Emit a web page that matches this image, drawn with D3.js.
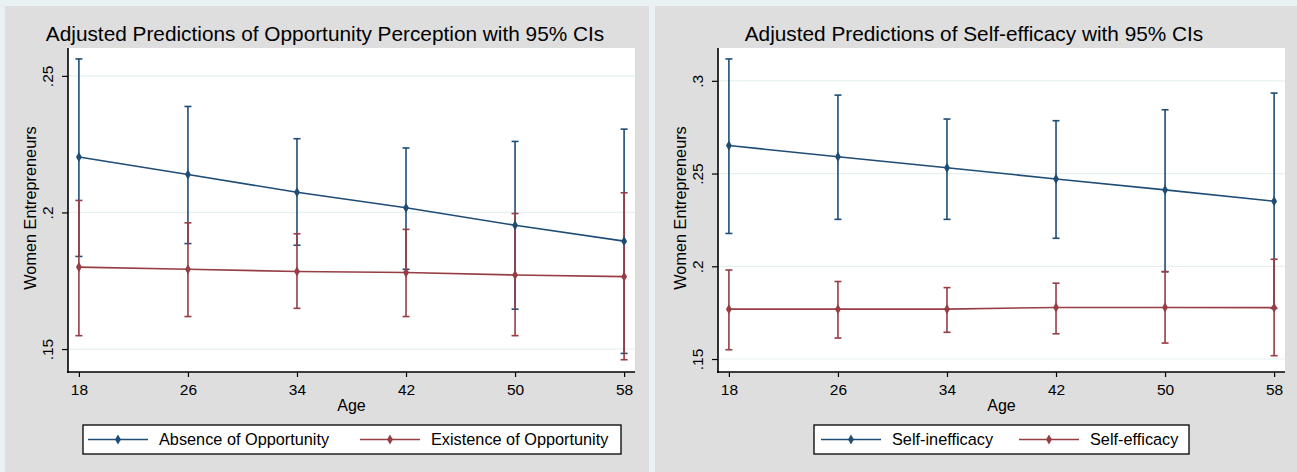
<!DOCTYPE html>
<html>
<head>
<meta charset="utf-8">
<script src="https://cdn.jsdelivr.net/npm/d3@7"></script>
<style>
  html, body { margin: 0; padding: 0; background: #e9f1f2; }
  svg { display: block; }
  text { font-family: "Liberation Sans", Arial, sans-serif; fill: #000; }
</style>
</head>
<body>
<svg id="chart" width="1297" height="472"></svg>
<script>
// ---------- data ----------
const ages = [18, 26, 34, 42, 50, 58];
const xTickLabels = ["18", "26", "34", "42", "50", "58"];

// Left chart: Opportunity Perception
const oppTitle = "Adjusted Predictions of Opportunity Perception with 95% CIs";
const oppSeriesNames = ["Absence of Opportunity", "Existence of Opportunity"];
const absenceFit = [0.2203, 0.2139, 0.2074, 0.2017, 0.1953, 0.1895];
const absenceLo  = [0.1839, 0.1886, 0.1880, 0.1792, 0.1646, 0.1484];
const absenceHi  = [0.2562, 0.2388, 0.2270, 0.2236, 0.2260, 0.2305];
const existenceFit = [0.1800, 0.1792, 0.1784, 0.1780, 0.1771, 0.1765];
const existenceLo  = [0.1549, 0.1619, 0.1649, 0.1619, 0.1549, 0.1461];
const existenceHi  = [0.2044, 0.1962, 0.1922, 0.1938, 0.1996, 0.2072];
const oppYTicks = [0.15, 0.2, 0.25];
const oppYTickLabels = [".15", ".2", ".25"];

// Right chart: Self-efficacy
const effTitle = "Adjusted Predictions of Self-efficacy with 95% CIs";
const effSeriesNames = ["Self-inefficacy", "Self-efficacy"];
const inefficacyFit = [0.2651, 0.2591, 0.2531, 0.2471, 0.2412, 0.2351];
const inefficacyLo  = [0.2177, 0.2253, 0.2253, 0.2151, 0.1971, 0.1773];
const inefficacyHi  = [0.3118, 0.2923, 0.2794, 0.2785, 0.2844, 0.2934];
const efficacyFit = [0.1769, 0.1769, 0.1769, 0.1778, 0.1778, 0.1777];
const efficacyLo  = [0.1550, 0.1613, 0.1644, 0.1636, 0.1586, 0.1518];
const efficacyHi  = [0.1980, 0.1918, 0.1885, 0.1909, 0.1971, 0.2038];
const effYTicks = [0.15, 0.2, 0.25, 0.3];
const effYTickLabels = [".15", ".2", ".25", ".3"];

const yTitle = "Women Entrepreneurs";
const xTitle = "Age";

// ---------- styles ----------
const NAVY = "#1f4d75";
const MAROON = "#973d44";
const PANEL = "#dedede";
const GRID = "#e6eff1";

const svg = d3.select("#chart");

function drawPanel(cfg) {
  const g = svg.append("g").attr("transform", `translate(${cfg.px},0)`);
  // panel background
  g.append("rect").attr("x", 0).attr("y", 6).attr("width", cfg.pw).attr("height", 472 - 6)
    .attr("fill", PANEL);

  const pl = 63, pr = pl + 567, pt = 48, pb = 372;
  g.append("rect").attr("x", pl).attr("y", pt).attr("width", pr - pl).attr("height", pb - pt)
    .attr("fill", "#fff");

  const x = d3.scaleLinear().domain([17.2, 58.8]).range([pl, pr]);
  const y = d3.scaleLinear().domain(cfg.yDomain).range([pb, pt]);

  // gridlines
  g.append("g").selectAll("line").data(cfg.yTicks).join("line")
    .attr("x1", pl).attr("x2", pr)
    .attr("y1", d => y(d)).attr("y2", d => y(d))
    .attr("stroke", GRID).attr("stroke-width", 1.2);

  // title
  g.append("text").attr("x", cfg.pw / 2 - 2).attr("y", 40.5).attr("text-anchor", "middle")
    .style("font-size", "20.8px").text(cfg.title);

  // y axis
  const yAxis = d3.axisLeft(y).tickValues(cfg.yTicks)
    .tickFormat((d, i) => cfg.yTickLabels[i]).tickSize(6).tickSizeOuter(0).tickPadding(0);
  const ya = g.append("g").attr("transform", `translate(${pl},0)`).call(yAxis);
  ya.select(".domain").attr("stroke", "#000").attr("stroke-width", 1.6)
    .attr("d", `M0,${pt}V${pb + 1}`);
  ya.selectAll(".tick line").attr("stroke", "#000").attr("stroke-width", 1.2);
  ya.selectAll(".tick text")
    .attr("x", 0).attr("dy", "0")
    .attr("transform", "translate(-15,0) rotate(-90)")
    .attr("text-anchor", "middle")
    .style("font-size", "15.5px").style("font-family", "'Liberation Sans', Arial, sans-serif");

  // y title
  g.append("text").attr("transform", `translate(${pl - 32},${(pt + pb) / 2 - 2}) rotate(-90)`)
    .attr("text-anchor", "middle").style("font-size", "16.3px").text(yTitle);

  // x axis
  const xAxis = d3.axisBottom(x).tickValues(ages)
    .tickFormat((d, i) => xTickLabels[i]).tickSize(5).tickSizeOuter(0).tickPadding(7);
  const xa = g.append("g").attr("transform", `translate(0,${pb})`).call(xAxis);
  xa.select(".domain").attr("stroke", "#000").attr("stroke-width", 1.6)
    .attr("d", `M${pl - 1},0H${pr}`);
  xa.selectAll(".tick line").attr("stroke", "#000").attr("stroke-width", 1.2);
  xa.selectAll(".tick text").style("font-size", "15.5px")
    .style("font-family", "'Liberation Sans', Arial, sans-serif");

  g.append("text").attr("x", (pl + pr) / 2).attr("y", 411).attr("text-anchor", "middle")
    .style("font-size", "16px").text(xTitle);

  // CIs
  const cap = 3.5;
  cfg.series.forEach(s => {
    const cg = g.append("g").attr("stroke", s.color).attr("stroke-width", 1.6).attr("fill", "none");
    ages.forEach((a, i) => {
      const xx = x(a);
      cg.append("line").attr("x1", xx).attr("x2", xx).attr("y1", y(s.lo[i])).attr("y2", y(s.hi[i]));
      cg.append("line").attr("x1", xx - cap).attr("x2", xx + cap).attr("y1", y(s.lo[i])).attr("y2", y(s.lo[i]));
      cg.append("line").attr("x1", xx - cap).attr("x2", xx + cap).attr("y1", y(s.hi[i])).attr("y2", y(s.hi[i]));
    });
  });
  // lines + markers
  const line = d3.line().x((d, i) => x(ages[i])).y(d => y(d));
  cfg.series.forEach(s => {
    g.append("path").datum(s.fit).attr("d", line).attr("fill", "none")
      .attr("stroke", s.color).attr("stroke-width", 1.6);
    g.append("g").selectAll("path").data(s.fit).join("path")
      .attr("d", d3.symbol(d3.symbolDiamond, 30))
      .attr("transform", (d, i) => `translate(${x(ages[i])},${y(d)})`)
      .attr("fill", s.color);
  });

  // legend
  const lg = g.append("g");
  lg.append("rect").attr("x", cfg.legend.x0).attr("y", 425).attr("width", cfg.legend.x1 - cfg.legend.x0)
    .attr("height", 29).attr("fill", "#fff").attr("stroke", "#000").attr("stroke-width", 1.3);
  cfg.series.forEach((s, k) => {
    const lx = cfg.legend.items[k];
    lg.append("line").attr("x1", lx).attr("x2", lx + 60).attr("y1", 439.5).attr("y2", 439.5)
      .attr("stroke", s.color).attr("stroke-width", 1.6);
    lg.append("path").attr("d", d3.symbol(d3.symbolDiamond, 30))
      .attr("transform", `translate(${lx + 30},439.5)`).attr("fill", s.color);
    lg.append("text").attr("x", lx + 71).attr("y", 445).style("font-size", "16.3px").text(s.name);
  });
}

drawPanel({
  px: 5, pw: 644, title: oppTitle,
  yDomain: [0.1416, 0.2602], yTicks: oppYTicks, yTickLabels: oppYTickLabels,
  series: [
    { name: oppSeriesNames[0], color: NAVY, fit: absenceFit, lo: absenceLo, hi: absenceHi },
    { name: oppSeriesNames[1], color: MAROON, fit: existenceFit, lo: existenceLo, hi: existenceHi }
  ],
  legend: { x0: 78, x1: 616, items: [83, 355] }
});

drawPanel({
  px: 655, pw: 642, title: effTitle,
  yDomain: [0.143, 0.3177], yTicks: effYTicks, yTickLabels: effYTickLabels,
  series: [
    { name: effSeriesNames[0], color: NAVY, fit: inefficacyFit, lo: inefficacyLo, hi: inefficacyHi },
    { name: effSeriesNames[1], color: MAROON, fit: efficacyFit, lo: efficacyLo, hi: efficacyHi }
  ],
  legend: { x0: 159, x1: 534, items: [166, 364] }
});
</script>
</body>
</html>
